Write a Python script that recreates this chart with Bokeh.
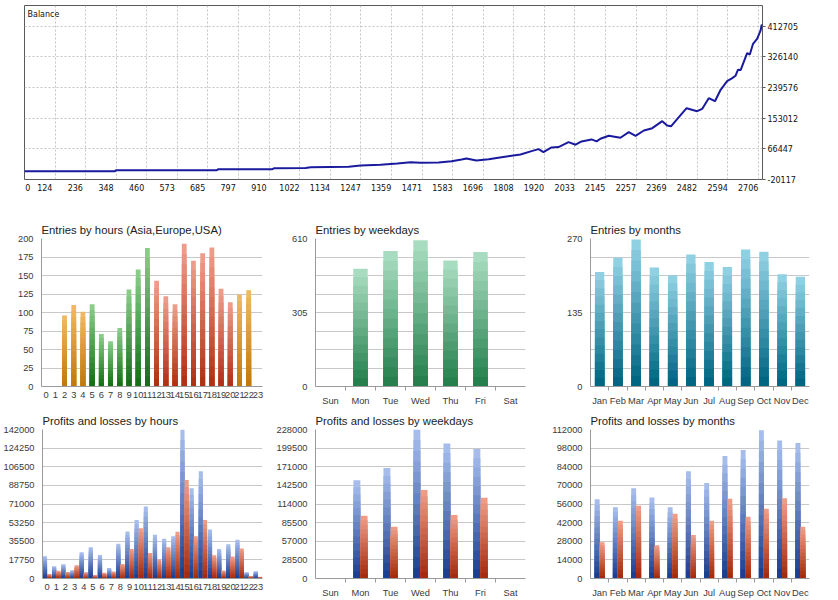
from bokeh.plotting import figure
from bokeh.layouts import column, row
from bokeh.models import FixedTicker, Range1d, Label, NumeralTickFormatter
from bokeh.embed import file_html
from bokeh.resources import INLINE

# ------------------------------------------------------------------ data
BAL_TRADE = [0, 335, 340, 712, 718, 918, 925, 1040, 1060, 1200, 1244, 1318, 1380, 1429,
             1466, 1533, 1581, 1618, 1636, 1673, 1718, 1766, 1810, 1836, 1877, 1903, 1921,
             1951, 1977, 2014, 2040, 2062, 2099, 2118, 2132, 2163, 2206, 2237, 2262, 2293,
             2324, 2361, 2379, 2394, 2416, 2451, 2490, 2509, 2533, 2556, 2577, 2601, 2620,
             2632, 2641, 2651, 2675, 2685, 2697, 2712, 2725, 2729, 2732]
BAL_VALUE = [3400, 3400, 6200, 6200, 9050, 9050, 11900, 12500, 14700, 15800, 19400, 21300,
             25000, 28800, 26900, 28000, 31700, 36500, 39300, 33600, 37300, 43000, 47800,
             50600, 60000, 65600, 57100, 70400, 71300, 85400, 78000, 87400, 93000, 87400,
             94800, 103200, 97600, 113400, 103200, 118200, 124700, 144500, 132300, 130400,
             150100, 181200, 172700, 179400, 209400, 200900, 233100, 257400, 265900, 272600,
             289500, 288900, 336400, 332700, 363000, 377100, 400500, 417000, 412705]
BAL_X_LABELS = ["0", "124", "236", "348", "460", "573", "685", "797", "910", "1022", "1134",
                "1247", "1359", "1471", "1583", "1696", "1808", "1920", "2033", "2145", "2257",
                "2369", "2482", "2594", "2706"]
BAL_Y_TICKS = [-20117, 66447, 153012, 239576, 326140, 412705]
BAL_X_END = 2732
BAL_Y_END = 471000
BAL_GRID_STEP = 113.2

HOURS = [str(h) for h in range(24)]
HOUR_SESSION = ["Asia"] * 5 + ["Europe"] * 7 + ["USA"] * 9 + ["Asia"] * 3
ENTRIES_HOURS = [0, 0, 96, 110, 101, 111, 71, 61, 79, 131, 158, 187, 143, 122, 111, 193, 170,
                 180, 188, 132, 114, 124, 130, 0]
WEEKDAYS = ["Sun", "Mon", "Tue", "Wed", "Thu", "Fri", "Sat"]
ENTRIES_WEEKDAYS = [0, 485, 558, 603, 519, 554, 0]
MONTHS = ["Jan", "Feb", "Mar", "Apr", "May", "Jun", "Jul", "Aug", "Sep", "Oct", "Nov", "Dec"]
ENTRIES_MONTHS = [209, 235, 268, 217, 203, 241, 227, 218, 250, 246, 205, 200]

PROFIT_HOURS = [21200, 11700, 13600, 7900, 25000, 29700, 22500, 10100, 33200, 44900, 55700,
                68600, 41800, 38000, 40200, 142000, 86000, 102200, 46800, 28200, 32600, 37000,
                6000, 7000]
LOSS_HOURS = [4400, 7300, 6300, 12650, 6000, 3200, 5400, 6600, 13900, 28200, 47800, 24400,
              18000, 29700, 44600, 93900, 40200, 55700, 22100, 7600, 20900, 28500, 2200, 1600]
PROFIT_WEEKDAYS = [0, 150300, 169100, 228000, 206700, 198000, 0]
LOSS_WEEKDAYS = [0, 96000, 79200, 135600, 97000, 123400, 0]
PROFIT_MONTHS = [59600, 53600, 67800, 60900, 53600, 80600, 71800, 92000, 96500, 111500, 103800,
                 101800]
LOSS_MONTHS = [27200, 43400, 54600, 24900, 48600, 32700, 43400, 59900, 46400, 52400, 60400,
               38900]

Y_MAX = {"eh": 200, "ew": 610, "em": 270, "ph": 142000, "pw": 228000, "pm": 112000}

# ------------------------------------------------------------------ style
SESSION_COLORS = {"Asia": ("#f0b862", "#c27a0c"),
                  "Europe": ("#88cc88", "#167016"),
                  "USA": ("#ee9c8a", "#b03214")}
WD_GREEN = ("#a8dcc0", "#25804d")
TEAL = ("#90d0e3", "#006682")
BLUE = ("#a6bdec", "#1d3f8f")
RED = ("#ee9c86", "#a52a0e")
AX_FONT = "Liberation Sans"


def hex2rgb(h):
    return tuple(int(h[i:i + 2], 16) for i in (1, 3, 5))


def mix(a, b, t):
    ra, rb = hex2rgb(a), hex2rgb(b)
    return "#%02x%02x%02x" % tuple(round(x + (y - x) * t) for x, y in zip(ra, rb))


def grad_bars(p, xs, vals, width, tops, bots, n=14):
    # vertical gradient: light at the top of each bar, dark at the bottom
    for k in range(n):
        t = k / (n - 1)
        frac = (n - k) / n
        p.vbar(x=xs, top=[v * frac for v in vals], bottom=0, width=width,
               fill_color=[mix(a, b, t) for a, b in zip(tops, bots)], line_color=None)


def panel(title, w, h, lb, rb, tb, bb, labels, y_max, labeled_ticks, boundary):
    n = len(labels)
    p = figure(width=w, height=h, x_range=Range1d(-0.5, n - 0.5), y_range=Range1d(0, y_max),
               min_border_left=lb, min_border_right=rb, min_border_top=tb,
               min_border_bottom=bb, output_backend="svg", toolbar_location=None,
               title=title)
    p.outline_line_color = None
    p.background_fill_color = "white"
    p.border_fill_color = "white"
    p.title.text_font = AX_FONT
    p.title.text_font_size = "11.3px"
    p.title.text_font_style = "normal"
    p.title.text_color = "#222222"
    p.title.align = "left"
    p.title.standoff = 6
    p.xgrid.visible = False
    p.ygrid.ticker = FixedTicker(ticks=[y_max * i / 8 for i in range(9)])
    p.ygrid.grid_line_color = "#c8c8c8"
    p.yaxis.ticker = FixedTicker(ticks=labeled_ticks)
    p.yaxis.formatter = NumeralTickFormatter(format="0")
    p.xaxis.ticker = FixedTicker(ticks=list(range(n)),
                                 minor_ticks=[i - 0.5 for i in range(1, n)] if boundary else [])
    p.xaxis.major_label_overrides = {i: lab for i, lab in enumerate(labels)}
    for ax in (p.xaxis[0], p.yaxis[0]):
        ax.major_tick_out = 0
        ax.major_tick_in = 0
        ax.minor_tick_in = 0
        ax.minor_tick_out = 0
        ax.axis_line_color = "#9a9a9a"
        ax.major_label_text_font = AX_FONT
        ax.major_label_text_font_size = "9.3px"
        ax.major_label_text_color = "#3a3a3a"
    p.xaxis.minor_tick_out = 4 if boundary else 0
    p.xaxis.minor_tick_line_color = "#9a9a9a"
    p.yaxis.major_label_standoff = 8
    p.xaxis.major_label_standoff = 5
    return p


# ------------------------------------------------------------------ balance chart
bal = figure(width=838, height=200, x_range=Range1d(0, BAL_X_END),
             y_range=Range1d(BAL_Y_TICKS[0], BAL_Y_END), y_axis_location="right",
             min_border_left=24, min_border_right=76, min_border_top=5, min_border_bottom=21,
             output_backend="svg", toolbar_location=None)
bal.outline_line_color = "#5a5a5a"
bal.outline_line_width = 1
grid_pos = [k * BAL_GRID_STEP for k in range(len(BAL_X_LABELS))]
label_pos = [12] + [round(g - 38) for g in grid_pos[1:]]
bal.xgrid.ticker = FixedTicker(ticks=grid_pos[1:])
bal.ygrid.ticker = FixedTicker(ticks=BAL_Y_TICKS[1:])
for g in (bal.xgrid[0], bal.ygrid[0]):
    g.grid_line_color = "#c4c4c4"
    g.grid_line_dash = "2 2"
xa = bal.xaxis[0]
xa.ticker = FixedTicker(ticks=label_pos)
xa.major_label_overrides = {pos: lab for pos, lab in zip(label_pos, BAL_X_LABELS)}
xa.major_tick_out = 0
xa.major_tick_in = 0
xa.minor_tick_out = 0
xa.minor_tick_in = 0
xa.axis_line_color = None
xa.major_label_standoff = 4
ya = bal.yaxis[0]
ya.ticker = FixedTicker(ticks=BAL_Y_TICKS)
ya.formatter = NumeralTickFormatter(format="0")
ya.major_tick_out = 3
ya.major_tick_in = 0
ya.minor_tick_out = 0
ya.minor_tick_in = 0
ya.major_tick_line_color = "#5a5a5a"
ya.axis_line_color = None
ya.major_label_standoff = 2
for ax in (xa, ya):
    ax.major_label_text_font = "DejaVu Sans"
    ax.major_label_text_font_size = "8px"
    ax.major_label_text_color = "#111111"
bal.line(BAL_TRADE, BAL_VALUE, line_color="#1a1a9e", line_width=2)
bal.add_layout(Label(x=0, y=BAL_Y_END, x_offset=3, y_offset=-4, text="Balance",
                     text_baseline="top", text_font="DejaVu Sans", text_font_size="8px",
                     text_color="#111111"))

# ------------------------------------------------------------------ entries row
eh = panel("Entries by hours (Asia,Europe,USA)", 272, 208, 41, 10, 38, 20, HOURS, Y_MAX["eh"],
           [Y_MAX["eh"] * i / 8 for i in range(9)], False)
grad_bars(eh, list(range(24)), ENTRIES_HOURS, 0.52,
          [SESSION_COLORS[s][0] for s in HOUR_SESSION],
          [SESSION_COLORS[s][1] for s in HOUR_SESSION])

ew = panel("Entries by weekdays", 273, 208, 43, 20, 38, 20, WEEKDAYS, Y_MAX["ew"],
           [0, Y_MAX["ew"] / 2, Y_MAX["ew"]], True)
grad_bars(ew, list(range(7)), ENTRIES_WEEKDAYS, 0.48, [WD_GREEN[0]] * 7, [WD_GREEN[1]] * 7)

em = panel("Entries by months", 293, 208, 45, 29, 38, 20, MONTHS, Y_MAX["em"],
           [0, Y_MAX["em"] / 2, Y_MAX["em"]], True)
grad_bars(em, list(range(12)), ENTRIES_MONTHS, 0.51, [TEAL[0]] * 12, [TEAL[1]] * 12)

# ------------------------------------------------------------------ profits / losses row
ph = panel("Profits and losses by hours", 272, 192, 41, 10, 21, 21, HOURS, Y_MAX["ph"],
           [Y_MAX["ph"] * i / 8 for i in range(9)], False)
grad_bars(ph, [i - 0.23 for i in range(24)], PROFIT_HOURS, 0.45, [BLUE[0]] * 24, [BLUE[1]] * 24)
grad_bars(ph, [i + 0.23 for i in range(24)], LOSS_HOURS, 0.45, [RED[0]] * 24, [RED[1]] * 24)

pw = panel("Profits and losses by weekdays", 273, 192, 43, 20, 21, 21, WEEKDAYS, Y_MAX["pw"],
           [Y_MAX["pw"] * i / 8 for i in range(9)], True)
grad_bars(pw, [i - 0.12 for i in range(7)], PROFIT_WEEKDAYS, 0.23, [BLUE[0]] * 7, [BLUE[1]] * 7)
grad_bars(pw, [i + 0.12 for i in range(7)], LOSS_WEEKDAYS, 0.23, [RED[0]] * 7, [RED[1]] * 7)

pm = panel("Profits and losses by months", 293, 192, 45, 29, 21, 21, MONTHS, Y_MAX["pm"],
           [Y_MAX["pm"] * i / 8 for i in range(9)], True)
grad_bars(pm, [i - 0.135 for i in range(12)], PROFIT_MONTHS, 0.27, [BLUE[0]] * 12, [BLUE[1]] * 12)
grad_bars(pm, [i + 0.135 for i in range(12)], LOSS_MONTHS, 0.27, [RED[0]] * 12, [RED[1]] * 12)

layout = column(bal, row(eh, ew, em), row(ph, pw, pm))
open("out.html", "w").write(file_html(layout, INLINE, title="Strategy report"))
